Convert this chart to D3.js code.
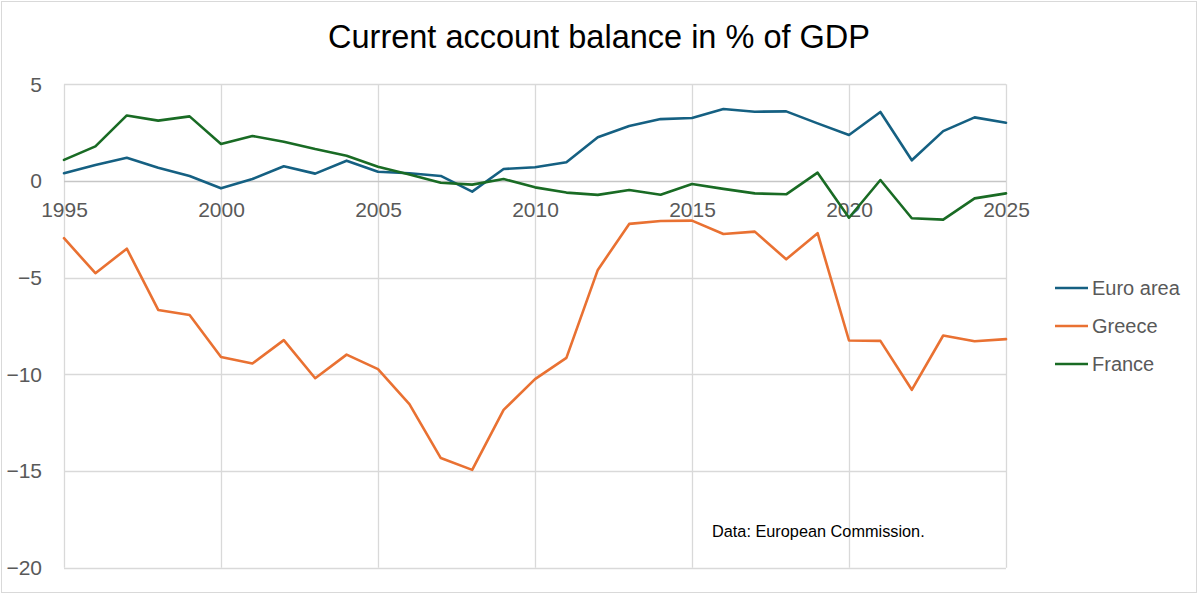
<!DOCTYPE html>
<html>
<head>
<meta charset="utf-8">
<script src="https://cdn.jsdelivr.net/npm/d3@7"></script>
<style>
  html, body { margin: 0; padding: 0; background: #fff; }
  svg { display: block; }
  text { font-family: "Liberation Sans", Arial, sans-serif; }
</style>
</head>
<body>
<svg id="chart" width="1200" height="595"></svg>
<script>
const years = d3.range(1995, 2026);
const euroArea = [0.40, 0.83, 1.20, 0.69, 0.26, -0.38, 0.10, 0.76, 0.38, 1.05, 0.48,
  0.40, 0.26, -0.55, 0.62, 0.71, 0.97, 2.26, 2.84, 3.20, 3.26, 3.72, 3.58,
  3.60, 2.98, 2.38, 3.57, 1.07, 2.58, 3.29, 3.01];
const greece = [-2.96, -4.77, -3.50, -6.67, -6.93, -9.10, -9.44, -8.23, -10.20, -8.98, -9.73,
  -11.54, -14.33, -14.94, -11.84, -10.25, -9.15, -4.60, -2.22, -2.07, -2.05, -2.74, -2.62,
  -4.05, -2.70, -8.25, -8.27, -10.80, -7.99, -8.29, -8.18];
const france = [1.09, 1.79, 3.39, 3.12, 3.34, 1.91, 2.33, 2.03, 1.65, 1.31, 0.74,
  0.34, -0.09, -0.19, 0.10, -0.33, -0.60, -0.72, -0.47, -0.71, -0.16, -0.41, -0.64,
  -0.69, 0.43, -1.90, 0.05, -1.93, -2.00, -0.90, -0.64];
const seriesNames = ["Euro area", "Greece", "France"];
const seriesColors = ["#156082", "#E97132", "#196B24"];
const xTicks = [1995, 2000, 2005, 2010, 2015, 2020, 2025];
const yTicks = [5, 0, -5, -10, -15, -20];
const title = "Current account balance in % of GDP";
const note = "Data: European Commission.";

const series = [euroArea, greece, france];
const svg = d3.select("#chart");

// outer border
svg.append("rect").attr("x", 1.5).attr("y", 1.5).attr("width", 1195).attr("height", 591)
  .attr("fill", "#fff").attr("stroke", "#d9d9d9").attr("stroke-width", 1);

const x = d3.scaleLinear().domain([1995, 2025]).range([64, 1006]);
const y = d3.scaleLinear().domain([-20, 5]).range([567.7, 84.3]);

// horizontal gridlines
svg.append("g").selectAll("line").data(yTicks.filter(d => d !== 0)).join("line")
  .attr("x1", x(1995)).attr("x2", x(2025))
  .attr("y1", d => Math.round(y(d)) + 0.5).attr("y2", d => Math.round(y(d)) + 0.5)
  .attr("stroke", "#d9d9d9").attr("stroke-width", 1.3);
// vertical gridlines
svg.append("g").selectAll("line").data(xTicks).join("line")
  .attr("x1", d => Math.round(x(d)) + 0.5).attr("x2", d => Math.round(x(d)) + 0.5)
  .attr("y1", y(5)).attr("y2", y(-20))
  .attr("stroke", "#d9d9d9").attr("stroke-width", 1.3);
// zero axis line
svg.append("line").attr("x1", x(1995)).attr("x2", x(2025))
  .attr("y1", Math.round(y(0)) + 0.5).attr("y2", Math.round(y(0)) + 0.5)
  .attr("stroke", "#c6c6c6").attr("stroke-width", 1.5);

// y axis labels
const yAxis = d3.axisLeft(y).tickValues(yTicks).tickSize(0).tickPadding(0).tickFormat(d3.format("d"));
const gy = svg.append("g").attr("transform", "translate(42,0)").call(yAxis);
gy.select(".domain").remove();
gy.selectAll("text").attr("font-size", 21).attr("fill", "#595959")
  .attr("font-family", "Liberation Sans, Arial, sans-serif");

// x axis labels (placed at y=0 line)
const xAxis = d3.axisBottom(x).tickValues(xTicks).tickSize(0).tickPadding(0).tickFormat(d3.format("d"));
const gx = svg.append("g").attr("transform", `translate(0,${y(0) + 21})`).call(xAxis);
gx.select(".domain").remove();
gx.selectAll("text").attr("font-size", 21).attr("fill", "#595959")
  .attr("font-family", "Liberation Sans, Arial, sans-serif");

// lines
const line = d3.line().x((d, i) => x(years[i])).y(d => y(d));
svg.append("g").selectAll("path").data(series).join("path")
  .attr("d", d => line(d))
  .attr("fill", "none")
  .attr("stroke", (d, i) => seriesColors[i])
  .attr("stroke-width", 2.6)
  .attr("stroke-linejoin", "round")
  .attr("stroke-linecap", "round");

// title
svg.append("text").attr("x", 599).attr("y", 48).attr("text-anchor", "middle")
  .attr("font-size", 32.5).attr("fill", "#000").text(title);

// note
svg.append("text").attr("x", 712).attr("y", 537).attr("font-size", 16.3).attr("fill", "#000").text(note);

// legend
const legY = [288, 326, 364];
const leg = svg.append("g").selectAll("g").data(seriesNames).join("g")
  .attr("transform", (d, i) => `translate(1055,${legY[i]})`);
leg.append("line").attr("x1", 0).attr("x2", 33).attr("y1", 0).attr("y2", 0)
  .attr("stroke", (d, i) => seriesColors[i]).attr("stroke-width", 2.6);
leg.append("text").attr("x", 37).attr("y", 7).attr("font-size", 20).attr("fill", "#595959").text(d => d);
</script>
</body>
</html>
